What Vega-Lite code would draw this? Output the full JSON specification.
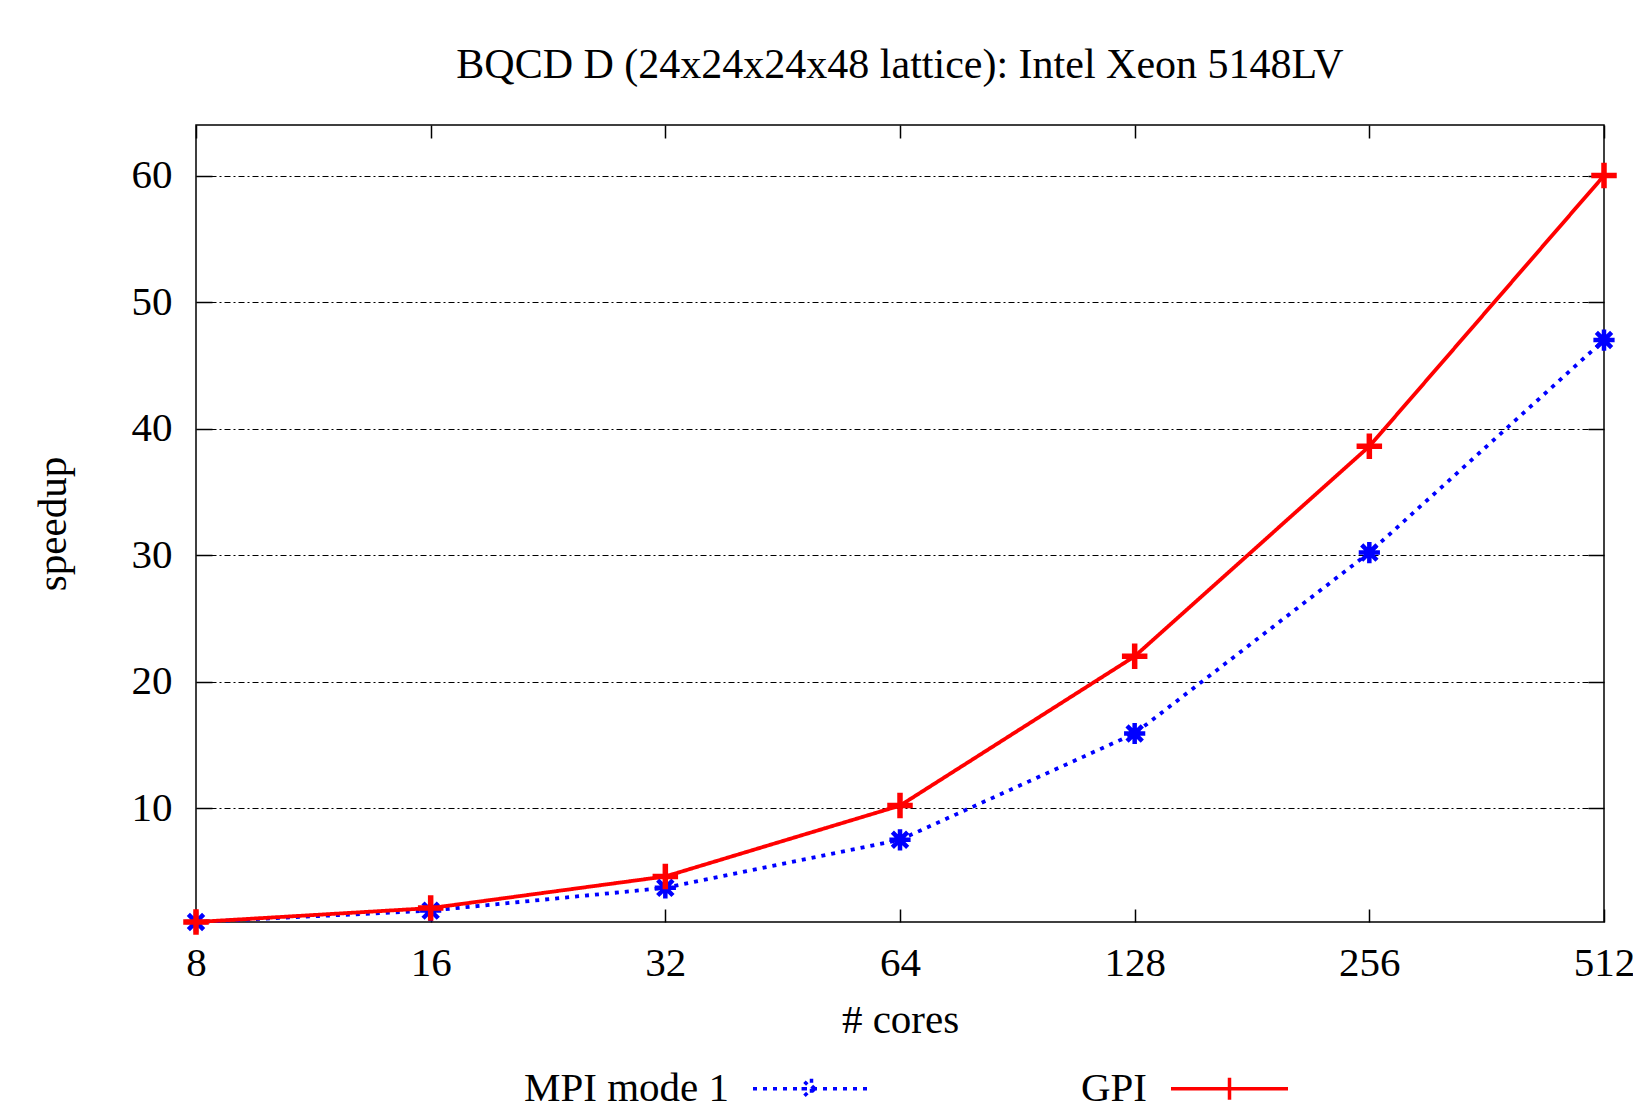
{
  "$schema": "https://vega.github.io/schema/vega-lite/v6.json",
  "width": 1408,
  "height": 797,
  "autosize": {"type": "none"},
  "padding": {"left": 196, "top": 125, "right": 29, "bottom": 184},
  "background": "white",
  "title": {
    "text": "BQCD D (24x24x24x48 lattice): Intel Xeon 5148LV",
    "font": "Liberation Serif",
    "fontSize": 42,
    "fontWeight": "normal",
    "color": "black",
    "anchor": "middle",
    "offset": 37
  },
  "data": {
    "values": [
      {"series": "MPI mode 1", "cores": 8, "speedup": 1.0},
      {"series": "MPI mode 1", "cores": 16, "speedup": 1.9},
      {"series": "MPI mode 1", "cores": 32, "speedup": 3.7},
      {"series": "MPI mode 1", "cores": 64, "speedup": 7.5},
      {"series": "MPI mode 1", "cores": 128, "speedup": 15.9},
      {"series": "MPI mode 1", "cores": 256, "speedup": 30.2},
      {"series": "MPI mode 1", "cores": 512, "speedup": 47.0},
      {"series": "GPI", "cores": 8, "speedup": 1.0},
      {"series": "GPI", "cores": 16, "speedup": 2.1},
      {"series": "GPI", "cores": 32, "speedup": 4.6},
      {"series": "GPI", "cores": 64, "speedup": 10.2},
      {"series": "GPI", "cores": 128, "speedup": 22.0},
      {"series": "GPI", "cores": 256, "speedup": 38.6},
      {"series": "GPI", "cores": 512, "speedup": 60.0}
    ]
  },
  "config": {
    "view": {"stroke": "black", "strokeWidth": 1.5},
    "font": "Liberation Serif",
    "axis": {
      "labelFont": "Liberation Serif",
      "labelFontSize": 41,
      "labelColor": "black",
      "titleFont": "Liberation Serif",
      "titleFontSize": 41,
      "titleFontWeight": "normal",
      "titleColor": "black",
      "tickColor": "black",
      "tickWidth": 1.5,
      "domain": false,
      "labelFlush": false,
      "labelOverlap": false
    }
  },
  "layer": [
    {
      "mark": {"type": "line", "strokeWidth": 3.8, "clip": false},
      "encoding": {
        "x": {
          "field": "cores", "type": "quantitative",
          "scale": {"type": "log", "base": 2, "domain": [8, 512], "nice": false},
          "axis": {"orient": "bottom", "values": [8, 16, 32, 64, 128, 256, 512], "format": "d", "tickSize": -13, "labelPadding": 34, "title": "# cores", "titlePadding": 17, "grid": false}
        },
        "y": {
          "field": "speedup", "type": "quantitative",
          "scale": {"domain": [1, 64], "nice": false, "zero": false},
          "axis": {"orient": "left", "values": [10, 20, 30, 40, 50, 60], "format": "d", "tickSize": -16, "labelPadding": 40, "title": "speedup", "titlePadding": 57, "grid": true, "gridColor": "black", "gridDash": [6, 3, 2, 3], "gridWidth": 1.2, "gridOpacity": 1}
        },
        "color": {
          "field": "series", "type": "nominal",
          "scale": {"domain": ["MPI mode 1", "GPI"], "range": ["#0000ff", "#ff0000"]}
        },
        "strokeDash": {
          "field": "series", "type": "nominal",
          "scale": {"domain": ["MPI mode 1", "GPI"], "range": [[4, 6], [1, 0]]}
        }
      }
    },
    {
      "transform": [{"filter": "datum.series == 'MPI mode 1'"}],
      "mark": {"type": "point", "shape": "M-1,0H1M0,-1V1M-0.72,-0.72L0.72,0.72M-0.72,0.72L0.72,-0.72", "filled": false, "stroke": "#0000ff", "color": "#0000ff", "size": 450, "strokeWidth": 4.5, "opacity": 1},
      "encoding": {
        "x": {"field": "cores", "type": "quantitative", "axis": {"orient": "top", "values": [8, 16, 32, 64, 128, 256, 512], "labels": false, "tickSize": -13, "title": null, "grid": false}},
        "y": {"field": "speedup", "type": "quantitative", "axis": {"orient": "right", "values": [10, 20, 30, 40, 50, 60], "labels": false, "tickSize": -16, "title": null, "grid": false}}
      }
    },
    {
      "transform": [{"filter": "datum.series == 'GPI'"}],
      "mark": {"type": "point", "shape": "M-1,0H1M0,-1V1", "filled": false, "stroke": "#ff0000", "color": "#ff0000", "size": 650, "strokeWidth": 5.5, "opacity": 1},
      "encoding": {
        "x": {"field": "cores", "type": "quantitative", "axis": null},
        "y": {"field": "speedup", "type": "quantitative", "axis": null}
      }
    },
    {
      "mark": {"type": "point", "filled": false, "opacity": 0, "size": 13689, "strokeWidth": 3.5},
      "encoding": {
        "x": {"field": "cores", "type": "quantitative", "axis": null},
        "y": {"field": "speedup", "type": "quantitative", "axis": null},
        "color": {"field": "series", "type": "nominal"},
        "strokeDash": {"field": "series", "type": "nominal"},
        "shape": {
          "field": "series", "type": "nominal",
          "scale": {"domain": ["MPI mode 1", "GPI"], "range": ["M-1,0H1M0,-0.17V0.17M-0.17,0H0.17M-0.12,-0.12L0.12,0.12M-0.12,0.12L0.12,-0.12", "M-1,0H1M0,-0.19V0.19"]},
          "legend": {
            "orient": "none", "legendX": 555, "legendY": 903, "direction": "horizontal",
            "title": null, "padding": 0,
            "labelFont": "Liberation Serif", "labelFontSize": 41, "labelColor": "black", "labelLimit": 400,
            "labelAlign": "right", "labelOffset": -143,
            "symbolSize": 13689, "symbolStrokeWidth": 3.5, "symbolOpacity": 1, "symbolFillColor": "transparent",
            "columnPadding": 203,
            "encode": {
              "symbols": {"update": {
                "stroke": {"signal": "datum.value == 'GPI' ? '#ff0000' : '#0000ff'"},
                "strokeDash": {"signal": "datum.value == 'GPI' ? [1, 0] : [4, 5]"},
                "opacity": {"value": 1}
              }}
            }
          }
        }
      }
    }
  ],
  "resolve": {"axis": {"x": "independent", "y": "independent"}}
}
